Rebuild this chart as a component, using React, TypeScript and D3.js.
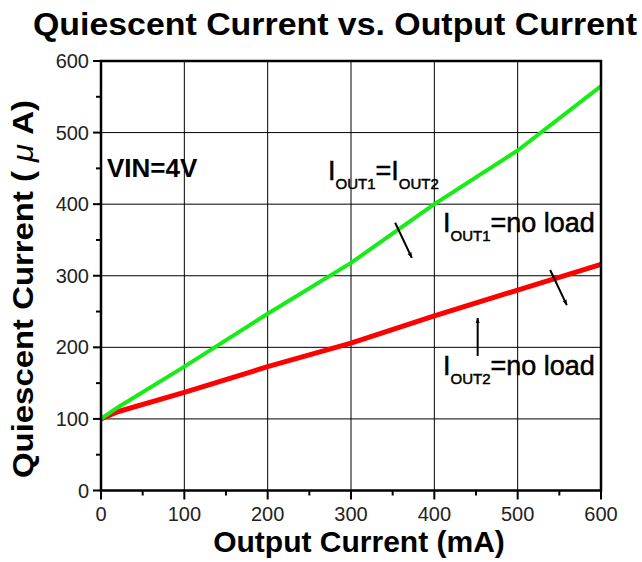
import React from 'react';
import * as d3 from 'd3';

const outputCurrent = [0, 20, 100, 200, 300, 400, 500, 600];
const bothLoaded = [100, 116, 173, 247, 318, 400, 475, 565];
const oneLoaded = [100, 110, 137, 173, 206, 244, 280, 316];
const xTicks = [0, 100, 200, 300, 400, 500, 600];
const yTicks = [0, 100, 200, 300, 400, 500, 600];
const xMinor = [50, 150, 250, 350, 450, 550];
const yMinor = [50, 150, 250, 350, 450, 550];

// annotation arrows, in data units: [x1, y1, x2, y2]
const arrows = [
  [353, 374, 373, 325],
  [539, 308, 559, 259],
  [452, 188, 452, 241],
];

const W = 642;
const H = 562;
const margin = { top: 61, right: 41, bottom: 71.5, left: 101 };

const App: React.FC = () => {
  const x = d3.scaleLinear().domain([0, 600]).range([margin.left, W - margin.right]);
  const y = d3.scaleLinear().domain([0, 600]).range([H - margin.bottom, margin.top]);

  const line = d3.line<number>()
    .x((_, i) => x(outputCurrent[i]))
    .y(d => y(d));

  const font = 'Arial, "Liberation Sans", Helvetica, sans-serif';

  return (
    <svg width={W} height={H} style={{ position: 'absolute', left: 0, top: 0, background: '#fff' }} fontFamily={font}>
      <defs>
        <marker id="head" viewBox="0 0 10 10" refX="9" refY="5" markerWidth="6" markerHeight="8" orient="auto" markerUnits="userSpaceOnUse">
          <path d="M0,1.5 L10,5 L0,8.5 Z" fill="#000" />
        </marker>
      </defs>

      {/* title */}
      <text x={335} y={35} textAnchor="middle" fontSize={32} fontWeight="bold" textLength={604} lengthAdjust="spacingAndGlyphs">
        Quiescent Current vs. Output Current
      </text>

      {/* grid */}
      {xTicks.slice(1, -1).map(t => (
        <line key={'gx' + t} x1={x(t)} x2={x(t)} y1={y(0)} y2={y(600)} stroke="#000" strokeWidth={1} />
      ))}
      {yTicks.slice(1, -1).map(t => (
        <line key={'gy' + t} x1={x(0)} x2={x(600)} y1={y(t)} y2={y(t)} stroke="#000" strokeWidth={1} />
      ))}

      {/* ticks */}
      {xTicks.map(t => (
        <g key={'xt' + t}>
          <line x1={x(t)} x2={x(t)} y1={y(0)} y2={y(0) + 9} stroke="#000" strokeWidth={2} />
          <text x={x(t)} y={y(0) + 30} textAnchor="middle" fontSize={20} fill="#222">{t}</text>
        </g>
      ))}
      {xMinor.map(t => (
        <line key={'xm' + t} x1={x(t)} x2={x(t)} y1={y(0)} y2={y(0) + 5} stroke="#000" strokeWidth={2} />
      ))}
      {yTicks.map(t => (
        <g key={'yt' + t}>
          <line x1={x(0) - 8} x2={x(0)} y1={y(t)} y2={y(t)} stroke="#000" strokeWidth={2} />
          <text x={x(0) - 12} y={y(t) + 7} textAnchor="end" fontSize={20} fill="#222">{t}</text>
        </g>
      ))}
      {yMinor.map(t => (
        <line key={'ym' + t} x1={x(0) - 5} x2={x(0)} y1={y(t)} y2={y(t)} stroke="#000" strokeWidth={2} />
      ))}

      {/* series */}
      <path d={line(oneLoaded) || ''} fill="none" stroke="#ff0000" strokeWidth={5} strokeLinejoin="round" />
      <path d={line(bothLoaded) || ''} fill="none" stroke="#16ec16" strokeWidth={4} strokeLinejoin="round" />

      {/* frame */}
      <rect x={x(0)} y={y(600)} width={x(600) - x(0)} height={y(0) - y(600)} fill="none" stroke="#000" strokeWidth={2.5} />

      {/* arrows */}
      {arrows.map((a, i) => (
        <line key={'ar' + i} x1={x(a[0])} y1={y(a[1])} x2={x(a[2])} y2={y(a[3])} stroke="#000" strokeWidth={2} markerEnd="url(#head)" />
      ))}

      {/* annotations */}
      <text x={107} y={177} fontSize={26} fontWeight="bold">VIN=4V</text>
      <g stroke="#000" strokeWidth={0.5}>
        <text x={328} y={180} fontSize={27}>
          I<tspan fontSize={15} dy={9}>OUT1</tspan><tspan dy={-9}>=I</tspan><tspan fontSize={15} dy={9}>OUT2</tspan>
        </text>
        <text x={443} y={232} fontSize={27}>
          I<tspan fontSize={15} dy={9}>OUT1</tspan><tspan dy={-9}>=no load</tspan>
        </text>
        <text x={443} y={375} fontSize={27}>
          I<tspan fontSize={15} dy={9}>OUT2</tspan><tspan dy={-9}>=no load</tspan>
        </text>
      </g>

      {/* axis titles */}
      <text x={359} y={552} textAnchor="middle" fontSize={30} fontWeight="bold">Output Current (mA)</text>
      <text transform="translate(33,289) rotate(-90)" textAnchor="middle" fontSize={30} fontWeight="bold" textLength={378} lengthAdjust="spacingAndGlyphs">
        Quiescent Current ( <tspan fontStyle="italic" fontWeight="normal">μ</tspan> A)
      </text>
    </svg>
  );
};

export default App;
